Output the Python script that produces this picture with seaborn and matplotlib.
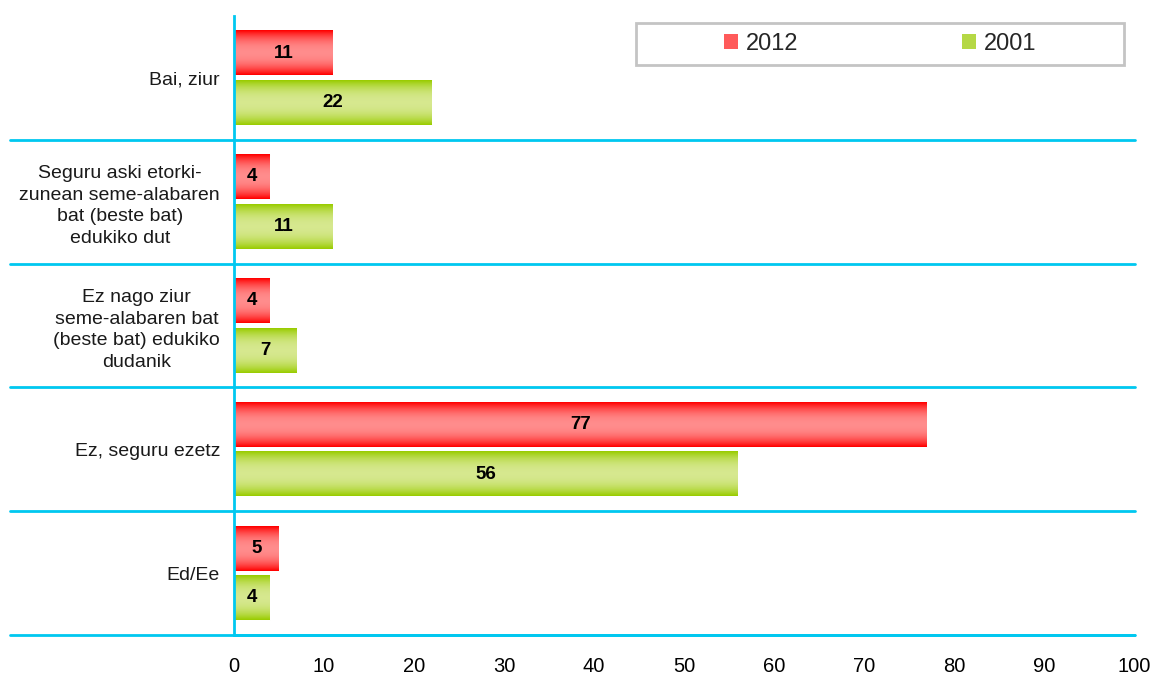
import numpy as np
import pandas as pd
import matplotlib.pyplot as plt
import seaborn as sns
from matplotlib.patches import Patch, Rectangle

# Data
categories = [
    "Bai, ziur",
    "Seguru aski etorki-\nzunean seme-alabaren\nbat (beste bat)\nedukiko dut",
    "Ez nago ziur\nseme-alabaren bat\n(beste bat) edukiko\ndudanik",
    "Ez, seguru ezetz",
    "Ed/Ee",
]
years = ["2012", "2001"]
values_2012 = [11, 4, 4, 77, 5]
values_2001 = [22, 11, 7, 56, 4]
x_ticks = list(range(0, 101, 10))

df = pd.DataFrame({
    "category": categories * 2,
    "year": [years[0]] * len(categories) + [years[1]] * len(categories),
    "value": values_2012 + values_2001,
})

# colours: saturated edge, light centre
edge_colors = {"2012": (1.0, 0.0, 0.0), "2001": (0.60, 0.80, 0.0)}
mid_colors = {"2012": (1.0, 0.55, 0.55), "2001": (0.84, 0.91, 0.56)}
legend_colors = {"2012": "#FF5A5A", "2001": "#B5D845"}
cyan = "#00C8F0"

sns.set_style("white")
plt.rcParams["font.family"] = ["Liberation Sans", "DejaVu Sans"]

fig = plt.figure(figsize=(11.53, 6.75), dpi=100)
ax = fig.add_axes([234 / 1153, 40 / 675, 900 / 1153, 619 / 675])

sns.barplot(
    data=df, x="value", y="category", hue="year", hue_order=years,
    orient="h", palette=edge_colors, width=0.8, gap=0.1,
    saturation=1, legend=False, ax=ax,
)


def gradient(year, n=64):
    t = np.linspace(0, 1, n)
    w = 1 - np.abs(2 * t - 1) ** 2.2
    e = np.array(edge_colors[year])
    m = np.array(mid_colors[year])
    rgb = e[None, :] * (1 - w[:, None]) + m[None, :] * w[:, None]
    return rgb[:, None, :]


# gradient fill on top of each bar
for year, container in zip(years, ax.containers):
    img = gradient(year)
    for bar in container:
        b = bar.get_bbox()
        ax.imshow(img, extent=(b.x0, b.x1, b.y0, b.y1), aspect="auto",
                  interpolation="bilinear", zorder=1.5)
    ax.bar_label(container, label_type="center", fontsize=13.5,
                 fontweight="bold", color="black", zorder=4)

ax.set_xlim(0, 100)
ax.set_ylim(len(categories) - 0.5, -0.5)
ax.set_xticks(x_ticks)
ax.set_xlabel("")
ax.set_ylabel("")

# separators between categories, reaching into the label area
for yb in np.arange(0.5, len(categories), 1):
    ax.plot([-0.249, 1.001], [yb, yb], transform=ax.get_yaxis_transform(),
            color=cyan, lw=2, clip_on=False, zorder=5)

for side in ["top", "right"]:
    ax.spines[side].set_visible(False)
for side in ["left", "bottom"]:
    ax.spines[side].set_color(cyan)
    ax.spines[side].set_linewidth(2)

ax.tick_params(axis="x", color=cyan, labelcolor="black", length=5, width=2,
               pad=11, labelsize=14.5, direction="out")
ax.tick_params(axis="y", which="major", length=0, pad=10, labelsize=14,
               labelcolor="#1a1a1a")
ax.set_yticks(np.arange(-0.5, len(categories), 1), minor=True)
ax.tick_params(axis="y", which="minor", length=6, width=2, color=cyan,
               direction="out")
for lbl in ax.get_yticklabels():
    lbl.set_multialignment("center")
    lbl.set_linespacing(1.35)

# legend with its own frame
handles = [Patch(facecolor=legend_colors[y], edgecolor="none") for y in years]
fig.legend(handles, years, loc="center", bbox_to_anchor=(0.7635, 0.935),
           ncol=2, frameon=False, fontsize=17, columnspacing=6.9,
           handlelength=0.6, handleheight=0.6, handletextpad=0.35)
fig.add_artist(Rectangle((636 / 1153, 1 - 65 / 675), 488 / 1153, 42 / 675,
                         transform=fig.transFigure, fill=False,
                         edgecolor="#C4C4C4", lw=2))

fig.savefig("out.png", dpi=100)
